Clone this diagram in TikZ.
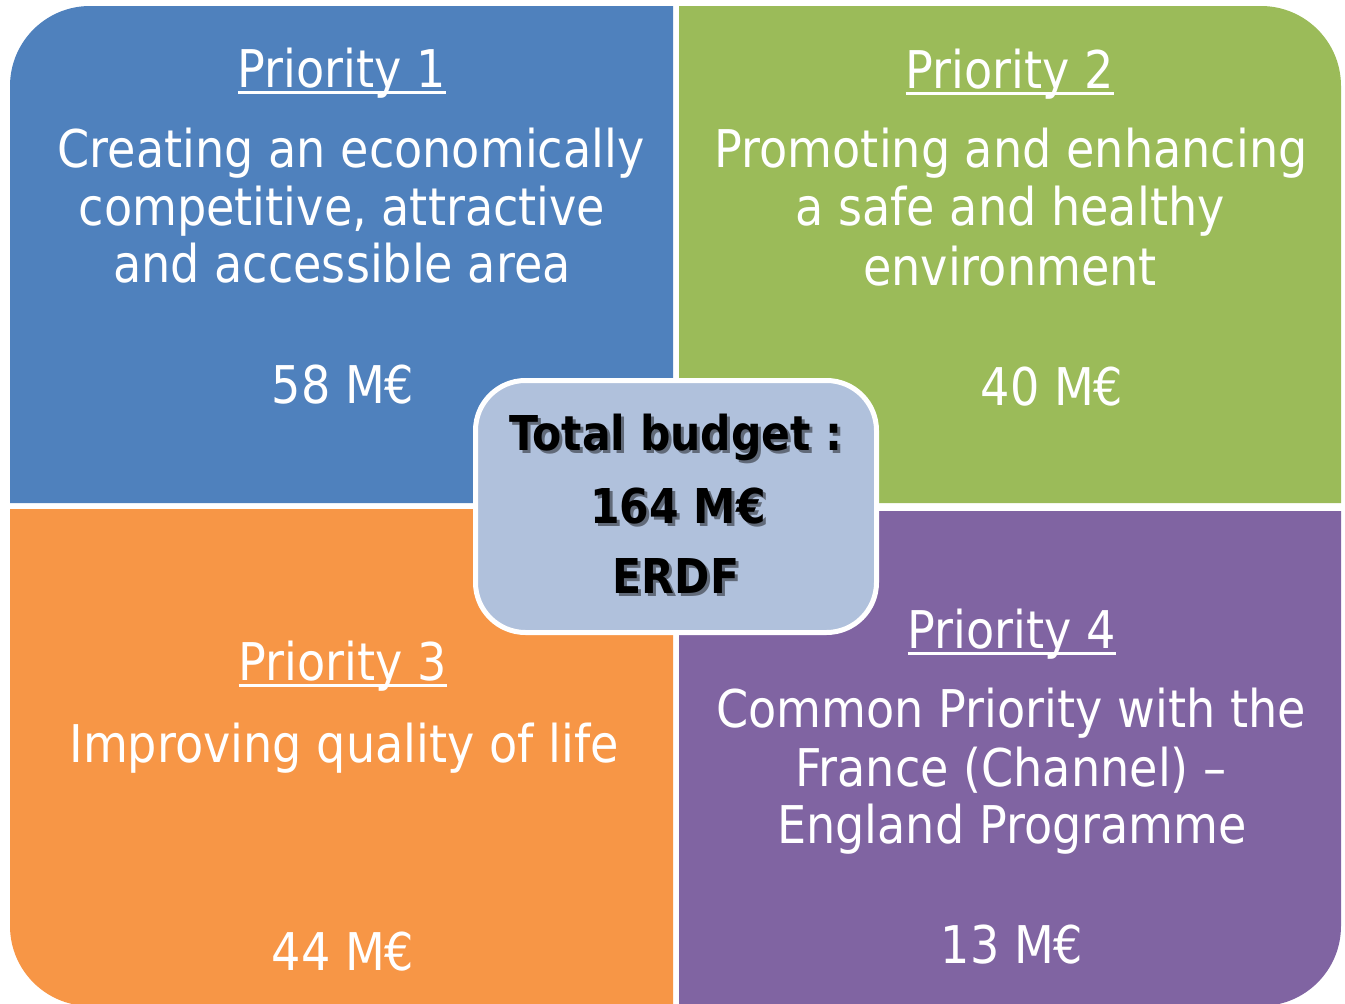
\documentclass[tikz,border=0pt]{standalone}
\usepackage{fontspec}
\setmainfont[FakeStretch=0.887]{DejaVu Sans}
\definecolor{qblue}{HTML}{4F81BD}
\definecolor{qgreen}{HTML}{9BBB59}
\definecolor{qorange}{HTML}{F79646}
\definecolor{qpurple}{HTML}{8064A2}
\definecolor{qbox}{HTML}{B0C1DC}
\colorlet{qshadow}{qbox!55!black}
\newcommand\shadowed[1]{\leavevmode\rlap{\hspace{3pt}\raisebox{-3pt}{\textcolor{qshadow}{#1}}}#1}
\tikzset{
  wtxt/.style={text=white, inner sep=0pt, anchor=base, font=\fontsize{52}{58}\selectfont},
  btxt/.style={text=black, inner sep=0pt, anchor=base, font=\fontsize{48}{60}\selectfont\bfseries},
  uline/.style={white, line width=3pt},
}
\begin{document}
\begin{tikzpicture}[x=1pt, y=-1pt]
\useasboundingbox[fill=white] (0,0) rectangle (1345,1004);
% quadrants
\fill[qblue] (10,503) -- (10,86) arc[start angle=180, end angle=270, radius=80] -- (673,6) -- (673,503) -- cycle;
\fill[qgreen] (679,6) -- (1261,6) arc[start angle=270, end angle=360, radius=80] -- (1341,503) -- (679,503) -- cycle;
\fill[qorange] (10,509) -- (673,509) -- (673,1006) -- (90,1006) arc[start angle=90, end angle=180, radius=80] -- cycle;
\fill[qpurple] (679,511) -- (1341,511) -- (1341,926) arc[start angle=0, end angle=90, radius=80] -- (679,1006) -- cycle;
% blue texts
\node[wtxt] (p1) at (342,87) {Priority 1};
\draw[uline] ([yshift=-5pt]p1.base west) -- ([yshift=-5pt]p1.base east);
\node[wtxt] (p1a) at (351,167) {Creating an economically};
\node[wtxt] (p1b) at (342,225) {competitive, attractive};
\node[wtxt] (p1c) at (342,282) {and accessible area};
\node[wtxt] (p1m) at (343,403) {58 M€};
% green texts
\node[wtxt] (p2) at (1010,88) {Priority 2};
\draw[uline] ([yshift=-5pt]p2.base west) -- ([yshift=-5pt]p2.base east);
\node[wtxt] (p2a) at (1011,167) {Promoting and enhancing};
\node[wtxt] (p2b) at (1010,225) {a safe and healthy};
\node[wtxt] (p2c) at (1010,285) {environment};
\node[wtxt] (p2m) at (1052,405) {40 M€};
% orange texts
\node[wtxt] (p3) at (343,680) {Priority 3};
\draw[uline] ([yshift=-5pt]p3.base west) -- ([yshift=-5pt]p3.base east);
\node[wtxt] (p3a) at (344,762) {Improving quality of life};
\node[wtxt] (p3m) at (343,970) {44 M€};
% purple texts
\node[wtxt] (p4) at (1012,648) {Priority 4};
\draw[uline] ([yshift=-5pt]p4.base west) -- ([yshift=-5pt]p4.base east);
\node[wtxt] (p4a) at (1011,727) {Common Priority with the};
\node[wtxt] (p4b) at (1011,786) {France (Channel) –};
\node[wtxt] (p4c) at (1012,843) {England Programme};
\node[wtxt] (p4m) at (1012,963) {13 M€};
% centre box
\node[draw=white, line width=5pt, fill=qbox, rounded corners=50pt, minimum width=401pt, minimum height=252pt, inner sep=0pt] (box) at (676,506.5) {};
\node[btxt] (t1) at (676,450) {\shadowed{Total budget :}};
\node[btxt] (t2) at (678,523) {\shadowed{164 M€}};
\node[btxt] (t3) at (676,593) {\shadowed{ERDF}};
\end{tikzpicture}
\end{document}
